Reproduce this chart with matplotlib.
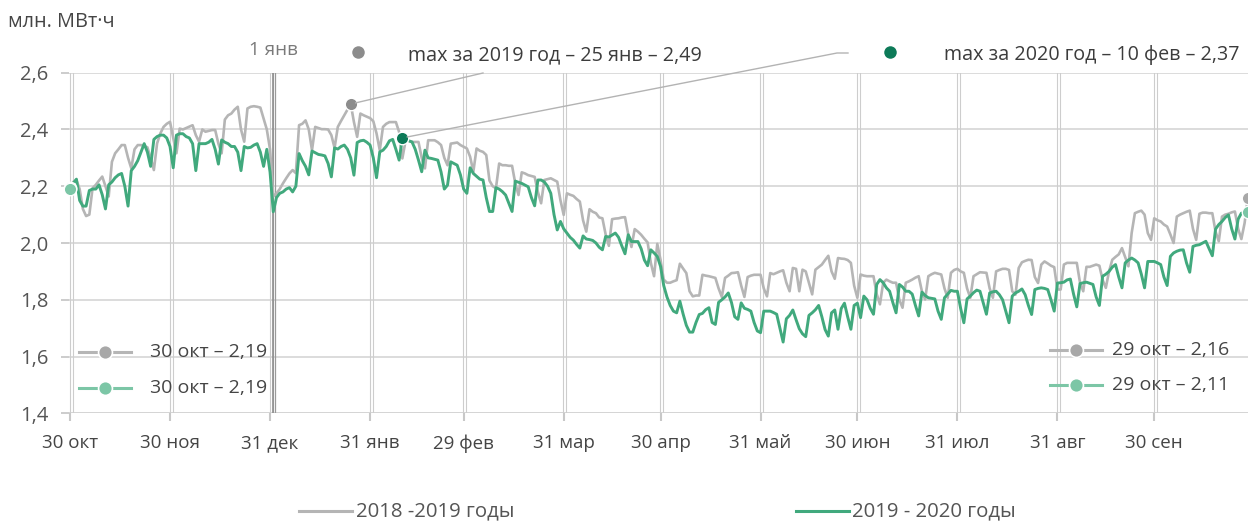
import numpy as np
import matplotlib
matplotlib.use("Agg")
import matplotlib.pyplot as plt

plt.rcParams['font.family'] = ['Open Sans', 'DejaVu Sans']

# ---------------- data ----------------
# 2019-2020 (day 0 = 30 Oct 2019 ... day 365 = 29 Oct 2020), mln MWh
green_vals = [
    2.19, 2.21, 2.225, 2.15, 2.13, 2.13, 2.185,
    2.19, 2.19, 2.205, 2.17, 2.12, 2.205, 2.215,
    2.23, 2.24, 2.245, 2.20, 2.13, 2.255, 2.27,
    2.29, 2.32, 2.35, 2.32, 2.27, 2.365, 2.375,
    2.38, 2.38, 2.37, 2.34, 2.265, 2.38, 2.385,
    2.385, 2.375, 2.37, 2.35, 2.255, 2.35, 2.35,
    2.35, 2.355, 2.365, 2.33, 2.278, 2.363, 2.355,
    2.35, 2.34, 2.34, 2.32, 2.255, 2.34, 2.335,
    2.337, 2.345, 2.35, 2.32, 2.27, 2.33, 2.25,
    2.11, 2.16, 2.175, 2.18, 2.19, 2.195, 2.18,
    2.20, 2.315, 2.29, 2.27, 2.24, 2.324, 2.318,
    2.312, 2.31, 2.307, 2.28, 2.233, 2.335, 2.331,
    2.34, 2.345, 2.33, 2.30, 2.239, 2.354, 2.36,
    2.362, 2.355, 2.345, 2.30, 2.23, 2.321, 2.327,
    2.34, 2.36, 2.365, 2.33, 2.292, 2.37, 2.365,
    2.36, 2.356, 2.33, 2.292, 2.251, 2.327, 2.30,
    2.298, 2.295, 2.292, 2.25, 2.19, 2.204, 2.286,
    2.28, 2.274, 2.24, 2.19, 2.175, 2.265, 2.245,
    2.235, 2.225, 2.222, 2.16, 2.111, 2.111, 2.195,
    2.19, 2.181, 2.169, 2.14, 2.111, 2.218, 2.214,
    2.21, 2.204, 2.198, 2.16, 2.131, 2.222, 2.222,
    2.215, 2.20, 2.175, 2.10, 2.046, 2.076, 2.05,
    2.035, 2.02, 2.01, 1.995, 1.982, 2.025, 2.014,
    2.012, 2.009, 2.0, 1.985, 1.976, 2.023, 2.021,
    2.028, 2.035, 2.02, 1.99, 1.962, 2.029, 2.005,
    2.005, 2.005, 1.98, 1.94, 1.92, 1.976, 1.965,
    1.953, 1.918, 1.85, 1.81, 1.78, 1.76, 1.754,
    1.795, 1.75, 1.71, 1.686, 1.686, 1.72, 1.748,
    1.752, 1.765, 1.772, 1.72, 1.713, 1.791, 1.80,
    1.81, 1.824, 1.79, 1.74, 1.731, 1.789, 1.77,
    1.766, 1.76, 1.72, 1.69, 1.684, 1.76, 1.76,
    1.76, 1.755, 1.749, 1.70, 1.651, 1.733, 1.745,
    1.764, 1.73, 1.698, 1.68, 1.67, 1.745, 1.754,
    1.765, 1.78, 1.74, 1.695, 1.672, 1.754, 1.764,
    1.696, 1.769, 1.788, 1.74, 1.696, 1.78, 1.788,
    1.737, 1.813, 1.80, 1.77, 1.749, 1.854, 1.871,
    1.86, 1.842, 1.83, 1.79, 1.754, 1.854, 1.845,
    1.83, 1.83, 1.82, 1.78, 1.743, 1.827, 1.815,
    1.807, 1.805, 1.803, 1.76, 1.731, 1.807, 1.82,
    1.833, 1.83, 1.83, 1.77, 1.719, 1.803, 1.813,
    1.825, 1.834, 1.83, 1.79, 1.749, 1.824, 1.828,
    1.83, 1.818, 1.80, 1.76, 1.719, 1.813, 1.824,
    1.83, 1.838, 1.818, 1.78, 1.748, 1.836, 1.84,
    1.842, 1.84, 1.836, 1.80, 1.76, 1.859, 1.86,
    1.862, 1.87, 1.873, 1.82, 1.775, 1.857, 1.86,
    1.862, 1.858, 1.854, 1.81, 1.78, 1.883, 1.89,
    1.90, 1.915, 1.924, 1.88, 1.842, 1.93, 1.94,
    1.947, 1.94, 1.93, 1.89, 1.842, 1.935, 1.935,
    1.935, 1.93, 1.924, 1.88, 1.85, 1.953, 1.965,
    1.971, 1.975, 1.976, 1.93, 1.897, 1.988, 1.992,
    1.994, 2.0, 2.006, 1.98, 1.955, 2.049, 2.065,
    2.076, 2.09, 2.099, 2.05, 2.014, 2.084, 2.105,
    2.107, 2.11,
]

# 2018-2019, aligned by calendar date (no 29 Feb in 2019)
gray_vals = [
    2.193, 2.215, 2.222, 2.19, 2.12, 2.095, 2.10,
    2.193, 2.205, 2.22, 2.234, 2.20, 2.164, 2.286,
    2.316, 2.33, 2.345, 2.345, 2.30, 2.263, 2.33,
    2.345, 2.345, 2.342, 2.337, 2.30, 2.257, 2.351,
    2.386, 2.409, 2.42, 2.427, 2.37, 2.316, 2.403,
    2.40, 2.405, 2.41, 2.415, 2.38, 2.357, 2.40,
    2.392, 2.395, 2.398, 2.398, 2.35, 2.316, 2.435,
    2.45, 2.456, 2.47, 2.48, 2.40, 2.357, 2.474,
    2.48, 2.482, 2.48, 2.477, 2.439, 2.40, 2.33,
    2.164, 2.175, 2.19, 2.21, 2.228, 2.245, 2.257,
    2.246, 2.415, 2.42, 2.432, 2.40, 2.327, 2.409,
    2.405, 2.401, 2.401, 2.40, 2.38, 2.335, 2.409,
    2.43, 2.45, 2.47, 2.49, 2.426, 2.374, 2.456,
    2.45, 2.445, 2.44, 2.429, 2.386, 2.327, 2.409,
    2.42, 2.426, 2.426, 2.426, 2.391, 2.298, 2.36,
    2.36, 2.356, 2.356, 2.356, 2.30, 2.263, 2.362,
    2.362, 2.362, 2.355, 2.345, 2.30, 2.274, 2.35,
    2.352, 2.354, 2.345,
    2.333, 2.304, 2.251, 2.333, 2.325, 2.321, 2.31,
    2.22, 2.20, 2.193, 2.28, 2.274, 2.274, 2.272,
    2.272, 2.21, 2.169, 2.249, 2.245, 2.239, 2.236,
    2.233, 2.18, 2.14, 2.222, 2.225, 2.228, 2.222,
    2.216, 2.15, 2.099, 2.175, 2.17, 2.166, 2.155,
    2.146, 2.08, 2.04, 2.119, 2.11, 2.105, 2.09,
    2.087, 2.03, 1.99, 2.084, 2.086, 2.087, 2.09,
    2.091, 2.03, 1.986, 2.049, 2.04, 2.029, 2.015,
    2.002, 1.93, 1.883, 1.997, 1.941, 1.871, 1.86,
    1.86, 1.865, 1.869, 1.927, 1.91, 1.894, 1.83,
    1.812, 1.815, 1.815, 1.888, 1.885, 1.883, 1.88,
    1.877, 1.84, 1.81, 1.877, 1.885, 1.894, 1.895,
    1.897, 1.85, 1.81, 1.88, 1.885, 1.888, 1.888,
    1.888, 1.84, 1.812, 1.894, 1.89, 1.895, 1.90,
    1.904, 1.86, 1.83, 1.912, 1.909, 1.83, 1.906,
    1.90, 1.86, 1.819, 1.906, 1.915, 1.924, 1.94,
    1.955, 1.90, 1.874, 1.947, 1.945, 1.944, 1.94,
    1.93, 1.85, 1.807, 1.889, 1.885, 1.883, 1.883,
    1.883, 1.82, 1.784, 1.86, 1.871, 1.865, 1.86,
    1.86, 1.80, 1.772, 1.86, 1.865, 1.871, 1.878,
    1.883, 1.83, 1.801, 1.883, 1.89, 1.895, 1.892,
    1.889, 1.84, 1.807, 1.895, 1.905, 1.909, 1.90,
    1.895, 1.84, 1.807, 1.883, 1.89, 1.897, 1.896,
    1.895, 1.84, 1.807, 1.90, 1.905, 1.909, 1.909,
    1.905, 1.83, 1.818, 1.912, 1.932, 1.937, 1.941,
    1.94, 1.88, 1.859, 1.924, 1.935, 1.928, 1.92,
    1.915, 1.836, 1.836, 1.924, 1.93, 1.93, 1.93,
    1.93, 1.86, 1.83, 1.916, 1.916, 1.92, 1.924,
    1.92, 1.87, 1.842, 1.90, 1.941, 1.951, 1.96,
    1.982, 1.95, 1.918, 2.035, 2.105, 2.11, 2.114,
    2.10, 2.035, 2.011, 2.087, 2.08, 2.076, 2.065,
    2.058, 2.03, 2.0, 2.093, 2.10, 2.105, 2.11,
    2.114, 2.05, 2.011, 2.103, 2.107, 2.107, 2.105,
    2.105, 2.04, 2.006, 2.093, 2.10, 2.103, 2.108,
    2.111, 2.05, 2.014, 2.07, 2.16,
]

tick_days = [0, 31, 62, 93, 122, 153, 183, 214, 244, 275, 306, 336]
tick_labels = ["30 окт", "30 ноя", "31 дек", "31 янв", "29 фев", "31 мар",
               "30 апр", "31 май", "30 июн", "31 июл", "31 авг", "30 сен"]
y_ticks = [1.4, 1.6, 1.8, 2.0, 2.2, 2.4, 2.6]
new_year_day = 63
max_2019 = (87, 2.49)
max_2020 = (103, 2.37)

# ---------------- style ----------------
GRAY = '#b5b5b5'
GRAY_DOT = '#a8a8a8'
GRAY_MAX = '#8c8c8c'
GREEN = '#41a97d'
GREEN_LIGHT = '#7cc6a6'
GREEN_MAX = '#0d7a58'
GRID = '#d9d9d9'
VGRID = '#cdcdcd'
TEXT = '#454545'

W, H = 1248, 521
fig = plt.figure(figsize=(W / 100, H / 100), dpi=100)
px_day = 3.227
x_left, x_right = 69, 1248
y_top, y_bot = 72.7, 413.3
ax = fig.add_axes([x_left / W, 1 - y_bot / H, (x_right - x_left) / W, (y_bot - y_top) / H])
ax.set_xlim(-0.3, (x_right - x_left) / px_day - 0.3)
ax.set_ylim(1.4, 2.6)
for s in ax.spines.values():
    s.set_visible(False)

# horizontal grid
for yv in y_ticks[1:]:
    ax.axhline(yv, color=GRID, lw=1.3, zorder=1)
ax.axhline(1.4, color='#c8c8c8', lw=1.8, zorder=1)

# vertical grid (double thin lines)
for d in tick_days:
    ax.axvline(d - 0.1, color=VGRID, lw=0.8, zorder=1)
    ax.axvline(d + 0.85, color=VGRID, lw=0.8, zorder=1)
ax.axvline(new_year_day - 0.1, color='#858585', lw=1.1, zorder=2)
ax.axvline(new_year_day + 0.6, color='#9a9a9a', lw=0.9, zorder=2)

ax.set_xticks(tick_days)
ax.set_xticklabels(tick_labels)
ax.set_yticks(y_ticks)
ax.set_yticklabels([f"{v:.1f}".replace('.', ',') for v in y_ticks])
ax.tick_params(axis='x', length=6, width=1.5, color='#c8c8c8', pad=9,
               labelsize=13.5, labelcolor=TEXT)
ax.tick_params(axis='y', length=6, width=1.3, color='#c8c8c8', pad=9,
               labelsize=14.5, labelcolor='#555555')

# series
x_green = np.arange(len(green_vals))
x_gray = np.r_[0:122, 123:366][:len(gray_vals)]
ax.plot(x_gray, gray_vals, color=GRAY, lw=1.9, zorder=3)
ax.plot(x_green, green_vals, color=GREEN, lw=2.1, zorder=4)

# start / end markers
ax.plot([x_gray[0]], [gray_vals[0]], 'o', ms=9, color=GRAY_DOT, mec='white', mew=1, zorder=5, clip_on=False)
ax.plot([x_green[0]], [green_vals[0]], 'o', ms=9, color=GREEN_LIGHT, mec='white', mew=1, zorder=6, clip_on=False)
ax.plot([x_gray[-1]], [gray_vals[-1]], 'o', ms=9, color=GRAY_DOT, mec='white', mew=1, zorder=5, clip_on=False)
ax.plot([x_green[-1]], [green_vals[-1]], 'o', ms=9, color=GREEN_LIGHT, mec='white', mew=1, zorder=6, clip_on=False)

# max markers + connectors
ax.plot([max_2019[0]], [max_2019[1]], 'o', ms=9, color=GRAY_MAX, mec='white', mew=1, zorder=7)
ax.plot([max_2020[0]], [max_2020[1]], 'o', ms=9, color=GREEN_MAX, mec='white', mew=1, zorder=7)


def to_fig(xd, yd):
    px, py = ax.transData.transform((xd, yd))
    return px / W, py / H


gx, gy = to_fig(*max_2019)
fig.add_artist(plt.Line2D([gx + 0.004, 483 / W], [gy + 0.002, 1 - 73 / H],
                          color='#b3b3b3', lw=1.0, zorder=2))
ex, ey = to_fig(*max_2020)
fig.add_artist(plt.Line2D([ex + 0.004, 837 / W, 848 / W], [ey + 0.002, 1 - 53 / H, 1 - 53 / H],
                          color='#b3b3b3', lw=1.0, zorder=2))

# annotation texts
fig.text(273 / W, 1 - 50 / H, "1 янв", ha='center', va='center', fontsize=13.5, color='#7a7a7a')
fig.add_artist(plt.Line2D([358 / W], [1 - 52 / H], marker='o', ms=9, color=GRAY_MAX, mec='none'))
fig.text(408 / W, 1 - 55 / H, "max за 2019 год – 25 янв – 2,49", ha='left', va='center',
         fontsize=14.2, color='#3c3c3c')
fig.add_artist(plt.Line2D([890 / W], [1 - 52 / H], marker='o', ms=9, color=GREEN_MAX, mec='none'))
fig.text(944 / W, 1 - 55 / H, "max за 2020 год – 10 фев – 2,37", ha='left', va='center',
         fontsize=14.2, color='#3c3c3c')

fig.text(8 / W, 1 - 22 / H, "млн. МВт·ч", ha='left', va='center', fontsize=14.3, color=TEXT)


def legend_row(xa, xb, y, color, mcolor, label, xt):
    fig.add_artist(plt.Line2D([xa / W, xb / W], [1 - y / H, 1 - y / H], color=color, lw=2.2))
    fig.add_artist(plt.Line2D([(xa + xb) / 2 / W], [1 - y / H], marker='o', ms=10,
                              color=mcolor, mec='white', mew=1.2))
    fig.text(xt / W, 1 - y / H, label, ha='left', va='center', fontsize=14, color=TEXT)


legend_row(79, 131, 352, GRAY, GRAY_DOT, "30 окт – 2,19", 150)
legend_row(79, 131, 388, GREEN_LIGHT, GREEN_LIGHT, "30 окт – 2,19", 150)
legend_row(1050, 1102, 350, GRAY, GRAY_DOT, "29 окт – 2,16", 1112)
legend_row(1050, 1102, 385, GREEN_LIGHT, GREEN_LIGHT, "29 окт – 2,11", 1112)

# bottom legend
fig.add_artist(plt.Line2D([299 / W, 352 / W], [1 - 511 / H, 1 - 511 / H], color=GRAY, lw=2.2))
fig.text(356 / W, 1 - 511 / H, "2018 -2019 годы", ha='left', va='center', fontsize=14.7, color='#555555')
fig.add_artist(plt.Line2D([796 / W, 849 / W], [1 - 511 / H, 1 - 511 / H], color=GREEN, lw=2.2))
fig.text(852 / W, 1 - 511 / H, "2019 - 2020 годы", ha='left', va='center', fontsize=14.7, color='#555555')

fig.savefig("out.png", dpi=100, facecolor='white')
